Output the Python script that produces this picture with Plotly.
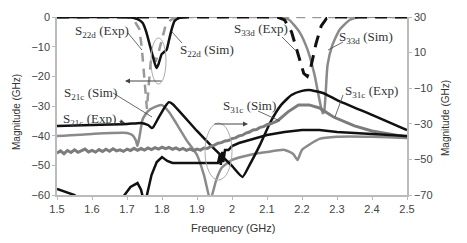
import plotly.graph_objects as go

# ---------------- data ----------------
# left axis (dB)
f_s22d_sim = [1.50, 1.70, 1.73, 1.745, 1.755, 1.765, 1.775, 1.784, 1.79, 1.799, 1.806, 1.813, 1.82, 1.827, 1.836, 1.85, 1.87]
v_s22d_sim = [0, 0, -0.7, -2, -5, -9.4, -13.8, -17.2, -15.9, -12.5, -11.8, -11.1, -7.8, -4.4, -1.3, -0.3, 0]

f_s22d_exp = [1.50, 1.70, 1.72, 1.735, 1.742, 1.748, 1.753, 1.757, 1.762, 1.768, 1.775, 1.782, 1.79, 1.80, 1.81, 1.825, 1.84, 2.50]
v_s22d_exp = [0, 0, -1, -4, -10, -18, -25, -31, -23, -15, -13, -15, -12, -7, -3, -1, 0, 0]

f_s33d_sim = [1.50, 2.13, 2.145, 2.164, 2.193, 2.216, 2.236, 2.25, 2.259, 2.263, 2.267, 2.273, 2.287, 2.307, 2.336, 2.364, 2.50]
v_s33d_sim = [0, 0, -0.3, -1, -5.1, -11.1, -19.6, -28, -32.4, -32, -27, -16.2, -9.4, -4.4, -1, 0, 0]

f_s33d_exp = [1.50, 2.13, 2.15, 2.17, 2.19, 2.205, 2.215, 2.225, 2.24, 2.255, 2.27, 2.29, 2.50]
v_s33d_exp = [0, 0, -1, -5, -13, -19, -20, -17, -9, -3, -0.5, 0, 0]

f_s21c_sim = [1.50, 1.60, 1.70, 1.74, 1.76, 1.77, 1.775, 1.79, 1.81, 1.82, 1.83, 1.90, 1.95, 2.00, 2.03, 2.05, 2.08, 2.11, 2.14, 2.17, 2.20, 2.22, 2.26, 2.30, 2.40, 2.50]
v_s21c_sim = [-36.7, -36.4, -36.1, -35.7, -36.4, -37.4, -37.1, -34.0, -30.0, -28.7, -29.3, -38.4, -44.5, -50.2, -53.9, -49.9, -43.1, -35.4, -29.7, -26.3, -24.9, -24.6, -25.6, -28.0, -33.0, -38.1]

f_s21c_g = [1.50, 1.60, 1.70, 1.715, 1.725, 1.73, 1.735, 1.745, 1.76, 1.78, 1.80, 1.82, 1.84, 1.87, 1.90, 1.92, 1.938, 1.955, 1.97, 2.00, 2.05, 2.10, 2.15, 2.175, 2.187, 2.20, 2.25, 2.30, 2.40, 2.50]
v_s21c_g = [-40.1, -39.4, -39.1, -39.8, -41.5, -43.5, -40.8, -34.4, -31.7, -30.3, -29.7, -32.0, -35.7, -41.5, -46.5, -53.3, -61.7, -54.9, -50.9, -48.2, -46.5, -45.5, -44.8, -46.2, -48.2, -44.8, -41.1, -40.4, -40.4, -40.8]

# right axis (dB)
f_s31c_sim = [1.50, 1.55, 1.60, 1.65, 1.693, 1.71, 1.73, 1.74, 1.745, 1.75, 1.757, 1.77, 1.785, 1.80, 1.815, 1.83, 1.90, 1.96, 1.965, 1.968, 1.972, 1.975, 1.98, 1.99, 2.00, 2.02, 2.05, 2.10, 2.15, 2.20, 2.25, 2.30, 2.35, 2.40, 2.45, 2.50]
v_s31c_sim = [-66.6, -70, -81, -81, -70, -65.5, -63.3, -67, -71, -80, -70, -58.8, -51.5, -48.7, -50.9, -52.0, -52.0, -52.0, -47.5, -53.1, -45.8, -51.5, -44.7, -44.7, -42.5, -40.8, -39.1, -36.3, -34.6, -33.5, -33.5, -34.6, -35.2, -35.7, -36.3, -36.9]

f_s31c_exp = [1.50, 1.51, 1.52, 1.53, 1.54, 1.55, 1.56, 1.57, 1.58, 1.59, 1.60, 1.61, 1.62, 1.63, 1.64, 1.65, 1.66, 1.67, 1.68, 1.69,
              1.70, 1.71, 1.72, 1.73, 1.74, 1.75, 1.76, 1.77, 1.78, 1.79, 1.80, 1.81, 1.82, 1.83, 1.84, 1.85, 1.86, 1.87, 1.88, 1.89,
              1.90, 1.91, 1.92, 1.93, 1.94, 1.95, 1.96, 1.97, 1.98, 1.99, 2.00, 2.01, 2.02, 2.03, 2.04, 2.05, 2.06, 2.07, 2.08, 2.09,
              2.10, 2.11, 2.12, 2.13, 2.16, 2.19, 2.22, 2.25, 2.29, 2.35, 2.40, 2.45, 2.50]
v_s31c_exp = [-46.5, -45.2, -46.8, -45.0, -46.1, -44.6, -46.0, -45.3, -44.2, -45.8, -44.9, -45.9, -44.5, -45.6, -44.3, -45.4, -44.0, -45.2, -44.6, -45.5,
              -44.2, -45.0, -43.8, -44.9, -43.9, -44.8, -43.6, -44.5, -43.4, -44.2, -43.1, -44.0, -43.3, -44.3, -43.5, -44.6, -43.8, -44.9, -44.1, -45.0,
              -44.2, -44.8, -43.6, -43.9, -42.6, -42.0, -40.9, -40.6, -39.6, -39.4, -38.3, -37.9, -36.8, -36.4, -35.2, -34.6, -33.5, -33.2, -32.0, -31.6,
              -30.5, -30.0, -29.1, -28.4, -23.3, -19.4, -19.4, -21.1, -26.2, -31.2, -34.0, -35.7, -37.4]

x_ticks = [1.5, 1.6, 1.7, 1.8, 1.9, 2.0, 2.1, 2.2, 2.3, 2.4, 2.5]
x_tick_text = ["1.5", "1.6", "1.7", "1.8", "1.9", "2", "2.1", "2.2", "2.3", "2.4", "2.5"]
yl_ticks = [0, -10, -20, -30, -40, -50, -60]
yr_ticks = [30, 10, -10, -30, -50, -70]

BLACK = "#111111"
GRAY = "#8a8a8a"
GRAY2 = "#7c7c7c"

fig = go.Figure()

def add(x, y, color, width=2.5, dash="solid", yaxis="y", shape="spline"):
    line = dict(color=color, width=width, dash=dash, shape=shape)
    if shape == "spline":
        line["smoothing"] = 0.5
    fig.add_trace(go.Scatter(x=x, y=y, mode="lines", yaxis=yaxis, line=line,
                             showlegend=False, hoverinfo="skip"))

add(f_s21c_g, v_s21c_g, GRAY)
add(f_s31c_exp, v_s31c_exp, GRAY2, width=3, yaxis="y2", shape="linear")
add(f_s33d_sim, v_s33d_sim, GRAY)
add(f_s22d_exp, v_s22d_exp, "#999999", dash="9px,7px", shape="linear")
add(f_s21c_sim, v_s21c_sim, BLACK)
add(f_s31c_sim, v_s31c_sim, BLACK, yaxis="y2", shape="linear")
add(f_s22d_sim, v_s22d_sim, BLACK)
add(f_s33d_exp, v_s33d_exp, BLACK, width=3, dash="12px,8px", shape="linear")

# page pixel geometry (the html body adds an 8px offset)
OFF = 8
W, H = 467 - OFF, 243 - OFF
L, R, T, B = 57, 407, 17, 195
def P(px, py):
    return (px - L) / (R - L), (B - py) / (B - T)

annos = []
TXT = dict(family="Liberation Serif", size=13, color="#333333")
labels = [
    ("S<sub>22d</sub> (Exp)", 102, 32),
    ("S<sub>22d</sub> (Sim)", 207, 50),
    ("S<sub>33d</sub> (Exp)", 261, 30),
    ("S<sub>33d</sub> (Sim)", 366, 37),
    ("S<sub>31c</sub> (Exp)", 371, 91),
    ("S<sub>21c</sub> (Sim)", 90, 93),
    ("S<sub>21c</sub> (Exp)", 89, 119),
    ("S<sub>31c</sub> (Sim)", 249, 106),
]
for t, px, py in labels:
    x, y = P(px, py)
    annos.append(dict(text=t, x=x, y=y, xref="paper", yref="paper", showarrow=False, font=TXT,
                      xanchor="center", yanchor="middle"))

# arrows
for (hx, hy, tx, ty) in [(125, 81, 163, 81), (248, 124, 213, 124), (125, 123, 118, 121)]:
    x, y = P(hx, hy)
    annos.append(dict(text="", x=x, y=y, xref="paper", yref="paper", showarrow=True,
                      ax=tx - hx, ay=ty - hy, arrowhead=2, arrowsize=1, arrowwidth=1, arrowcolor="#444"))

# axis titles
for (t, px, py, ang, sz) in [("Magnitude (GHz)", 16, 112, -90, 10), ("Magnitude (GHz)", 446, 118, -90, 10),
                             ("Frequency (GHz)", 233, 228, 0, 11)]:
    x, y = P(px, py)
    annos.append(dict(text=t, x=x, y=y, xref="paper", yref="paper", showarrow=False, textangle=ang,
                      xanchor="center", yanchor="middle",
                      font=dict(family="Liberation Sans", size=sz, color="#333333")))

shapes = []
for (x0, y0, x1, y1) in [(128, 33, 142, 50), (172, 32, 182, 43), (282, 37, 295, 50), (343, 42, 328, 50),
                         (113, 93, 152, 117), (343, 95, 335, 117), (258, 111, 280, 121)]:
    a0, b0 = P(x0, y0)
    a1, b1 = P(x1, y1)
    shapes.append(dict(type="line", xref="paper", yref="paper", x0=a0, y0=b0, x1=a1, y1=b1,
                       line=dict(color="#444", width=0.8)))
for (x0, y0, x1, y1) in [(151, 38, 166, 84), (205, 123, 232, 180)]:
    a0, b0 = P(x0, y0)
    a1, b1 = P(x1, y1)
    shapes.append(dict(type="circle", xref="paper", yref="paper", x0=a0, y0=b0, x1=a1, y1=b1,
                       line=dict(color="#aaaaaa", width=1)))

TICKF = dict(family="Liberation Sans", size=11, color="#444444")
AXIS = dict(showgrid=False, zeroline=False, showline=True, linecolor="#bbbbbb", linewidth=1.5,
            ticks="outside", ticklen=3, tickcolor="#bbbbbb", tickfont=TICKF, automargin=False)
fig.update_layout(
    width=W, height=H,
    margin=dict(l=L - OFF, r=W + OFF - R, t=T - OFF, b=H + OFF - B, pad=0, autoexpand=False),
    paper_bgcolor="white", plot_bgcolor="white",
    xaxis=dict(range=[1.5, 2.5], tickvals=x_ticks, ticktext=x_tick_text, **AXIS),
    yaxis=dict(range=[-60, 0], tickvals=yl_ticks, **AXIS),
    yaxis2=dict(range=[-70, 30], tickvals=yr_ticks, overlaying="y", side="right", **AXIS),
    annotations=annos, shapes=shapes,
)
fig.write_html("out.html")
